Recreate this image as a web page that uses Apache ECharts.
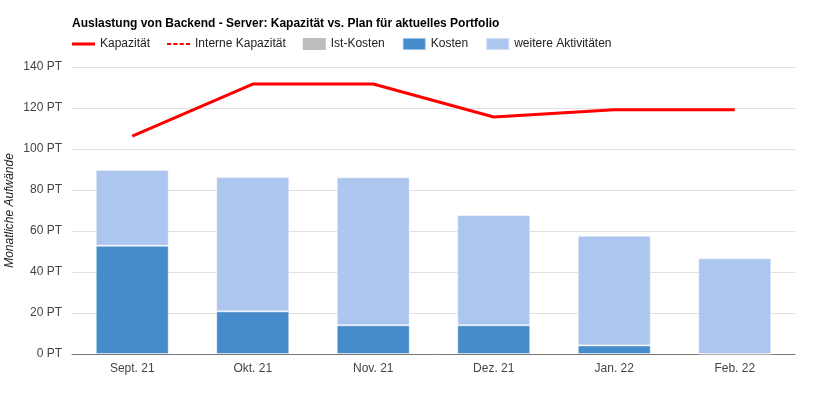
<!DOCTYPE html>
<html>
<head>
<meta charset="utf-8">
<script src="https://cdn.jsdelivr.net/npm/echarts@6/dist/echarts.min.js"></script>
<style>html,body{margin:0;padding:0;background:#fff;}#c{width:820px;height:394px;}</style>
</head>
<body>
<div id="c"></div>
<script>
const categories = ['Sept. 21', 'Okt. 21', 'Nov. 21', 'Dez. 21', 'Jan. 22', 'Feb. 22'];
const kapazitaet = [106.3, 131.7, 131.7, 115.6, 119.2, 119.2];
const interneKapazitaet = [null, null, null, null, null, null];
const istKosten = [null, null, null, null, null, null];
const kosten = [52.8, 20.8, 14.0, 14.0, 4.2, 0];
const weitere = [37.0, 65.5, 72.2, 53.8, 53.5, 46.7];
const yTicks = { min: 0, max: 140, interval: 20, suffix: ' PT' };

const font = 'Liberation Sans, Arial, sans-serif';
const solidIcon = 'path://M0,0h23v3h-23z';
const dashIcon = 'path://M0,0h4v2h-4z M6,0h4v2h-4z M12,0h4v2h-4z M18,0h4v2h-4z';
const chart = echarts.init(document.getElementById('c'), null, { renderer: 'canvas' });
chart.setOption({
  animation: false,
  textStyle: { fontFamily: font },
  title: {
    text: 'Auslastung von Backend - Server: Kapazität vs. Plan für aktuelles Portfolio',
    left: 67, top: 13,
    textStyle: { fontSize: 12, fontWeight: 'bold', color: '#000', fontFamily: font }
  },
  legend: {
    left: 67, top: 32,
    itemWidth: 23, itemHeight: 12, itemGap: 17,
    textStyle: { fontSize: 12, color: '#222', fontFamily: font },
    data: [
      { name: 'Kapazität', icon: solidIcon },
      { name: 'Interne Kapazität', icon: dashIcon },
      { name: 'Ist-Kosten', icon: 'rect' },
      { name: 'Kosten', icon: 'rect' },
      { name: 'weitere Aktivitäten', icon: 'rect' }
    ]
  },
  grid: { left: 72, right: 25, top: 67, bottom: 40, containLabel: false, outerBoundsMode: 'none' },
  xAxis: {
    type: 'category',
    data: categories,
    axisLine: { lineStyle: { color: '#777' } },
    axisTick: { show: false },
    axisLabel: { color: '#444', fontSize: 12, margin: 9, fontFamily: font }
  },
  yAxis: {
    type: 'value',
    min: yTicks.min, max: yTicks.max, interval: yTicks.interval,
    name: 'Monatliche Aufwände',
    nameLocation: 'middle', nameRotate: 90, nameGap: 56, nameMoveOverlap: false,
    nameTextStyle: { fontStyle: 'italic', color: '#222', fontSize: 12, fontFamily: font },
    axisLine: { show: false },
    axisTick: { show: false },
    axisLabel: { color: '#444', fontSize: 12, margin: 10, formatter: v => v + yTicks.suffix, fontFamily: font },
    splitLine: { lineStyle: { color: '#e0e0e0' } }
  },
  series: [
    { name: 'Kapazität', type: 'line', data: kapazitaet, symbol: 'none', showSymbol: false,
      lineStyle: { color: '#ff0000', width: 3 }, itemStyle: { color: '#ff0000' }, z: 5 },
    { name: 'Interne Kapazität', type: 'line', data: interneKapazitaet, symbol: 'none', showSymbol: false,
      lineStyle: { color: '#ff0000', width: 2, type: 'dashed' }, itemStyle: { color: '#ff0000' } },
    { name: 'Ist-Kosten', type: 'bar', stack: 'a', data: istKosten, barWidth: 73,
      itemStyle: { color: '#bdbdbd' } },
    { name: 'Kosten', type: 'bar', stack: 'a', data: kosten, barWidth: 73,
      itemStyle: { color: '#468bca', borderColor: 'rgba(255,255,255,0.45)', borderWidth: 1 } },
    { name: 'weitere Aktivitäten', type: 'bar', stack: 'a', data: weitere, barWidth: 73,
      itemStyle: { color: '#adc6ef', borderColor: 'rgba(255,255,255,0.45)', borderWidth: 1 } }
  ]
});
</script>
</body>
</html>
